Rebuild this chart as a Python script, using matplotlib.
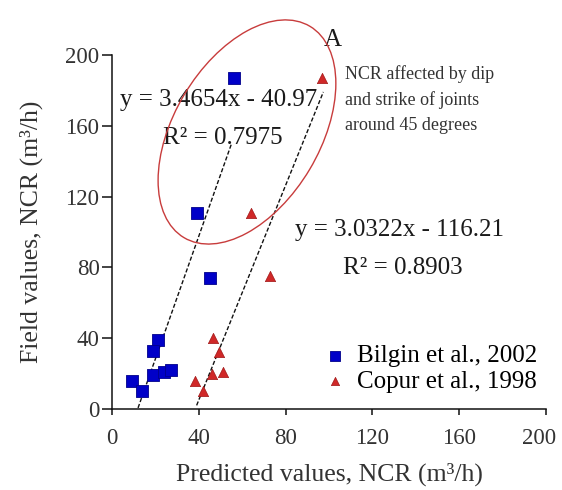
"""Field vs. predicted NCR for two data sets, with linear fits."""

import matplotlib
matplotlib.use("Agg")
import matplotlib.pyplot as plt
import matplotlib.transforms as mtransforms
import numpy as np
from matplotlib.patches import Ellipse

# Bilgin et al., 2002 (predicted, field)
bilgin_pred = [56, 39, 45, 21, 19, 9, 14, 19, 24, 27]
bilgin_field = [187, 111, 74, 39, 33, 16, 10, 19, 21, 22]

# Copur et al., 1998 (predicted, field)
copur_pred = [97, 64, 73, 46.7, 49.4, 51.3, 45.9, 38.2, 41.8]
copur_field = [187, 111, 75, 40, 32, 21, 20, 16, 10]

# linear fits as published
bilgin_fit = (3.4654, -40.97, 0.7975)
copur_fit = (3.0322, -116.21, 0.8903)
bilgin_fit_range = (12, 55)
copur_fit_range = (39, 97.4)

ticks = [0, 40, 80, 120, 160, 200]

SERIF = ["Liberation Serif", "DejaVu Serif"]
plt.rcParams["font.family"] = SERIF
plt.rcParams["mathtext.fontset"] = "stix"

fig = plt.figure(figsize=(5.62, 4.90), dpi=100)
ax = fig.add_axes([0.1993, 0.1653, 0.7722, 0.7225])

ax.scatter(bilgin_pred, bilgin_field, marker="s", s=85, color="#0000c8",
           edgecolors="#00008a", linewidths=0.6, zorder=3, label="Bilgin et al., 2002")
ax.scatter(copur_pred, copur_field, marker="^", s=55, color="#d02828",
           edgecolors="#a01818", linewidths=0.5, zorder=3, label="Copur et al., 1998")

for (slope, icpt, _), (x0, x1) in [(bilgin_fit, bilgin_fit_range), (copur_fit, copur_fit_range)]:
    xs = np.array([x0, x1])
    ax.plot(xs, slope * xs + icpt, color="#111111", lw=1.0, ls=(0, (3, 1.5)), zorder=2)

txt = dict(fontsize=18, color="#1a1a1a", family=SERIF)
ax.text(3.7, 174.6, f"y = {bilgin_fit[0]:.4f}x - {-bilgin_fit[1]:.2f}", va="center", ha="left", **txt)
ax.text(23.5, 153, f"R² = {bilgin_fit[2]:.4f}", va="center", ha="left", **txt)
ax.text(84.3, 101, f"y = {copur_fit[0]:.4f}x - {-copur_fit[1]:.2f}", va="center", ha="left", **txt)
ax.text(106.5, 79.7, f"R² = {copur_fit[2]:.4f}", va="center", ha="left", **txt)

# highlighted group and note
trans = fig.dpi_scale_trans + mtransforms.ScaledTranslation(62.2, 156.5, ax.transData)
ax.add_patch(Ellipse((0, 0), 2.46, 1.46, angle=59.2, fill=False, ec="#c83c3c",
                     lw=1.0, transform=trans, clip_on=False, zorder=4))
ax.text(101.8, 208.5, "A", fontsize=18, ha="center", va="center", color="#1a1a1a",
        family=SERIF, clip_on=False)
ax.text(107.4, 194.5, "NCR affected by dip\nand strike of joints\naround 45 degrees",
        fontsize=13, ha="left", va="top", color="#333333", family=SERIF, linespacing=1.6)

ax.set_xlim(0, 200)
ax.set_ylim(0, 200)
ax.set_xticks(ticks)
ax.set_yticks(ticks)
for side in ("top", "right"):
    ax.spines[side].set_visible(False)
for side in ("left", "bottom"):
    ax.spines[side].set_linewidth(1.1)
    ax.spines[side].set_color("#111111")
ax.tick_params(axis="x", direction="out", length=4.5, width=1.1, pad=9, labelsize=16.5, colors="#111111",
               labelcolor="#333333")
ax.tick_params(axis="y", direction="out", length=7, width=1.1, pad=2, labelsize=16.5, colors="#111111",
               labelcolor="#333333")

# pull the last x tick label in a little from the right edge
last = ax.get_xticklabels()[-1]
last.set_transform(last.get_transform() + mtransforms.ScaledTranslation(-0.07, 0, fig.dpi_scale_trans))

ax.set_xlabel("Predicted values, NCR (m³/h)", fontsize=18.5, color="#333333", labelpad=10)
ax.set_ylabel("Field values, NCR (m³/h)", fontsize=18.5, color="#333333", labelpad=16)

ax.legend(loc="center left", bbox_to_anchor=(97, 22.6), bbox_transform=ax.transData,
          frameon=False, fontsize=18, handlelength=1.0, handletextpad=0.4, labelspacing=0.12,
          borderpad=0, borderaxespad=0, markerscale=0.8)

fig.savefig("out.png", dpi=100)
